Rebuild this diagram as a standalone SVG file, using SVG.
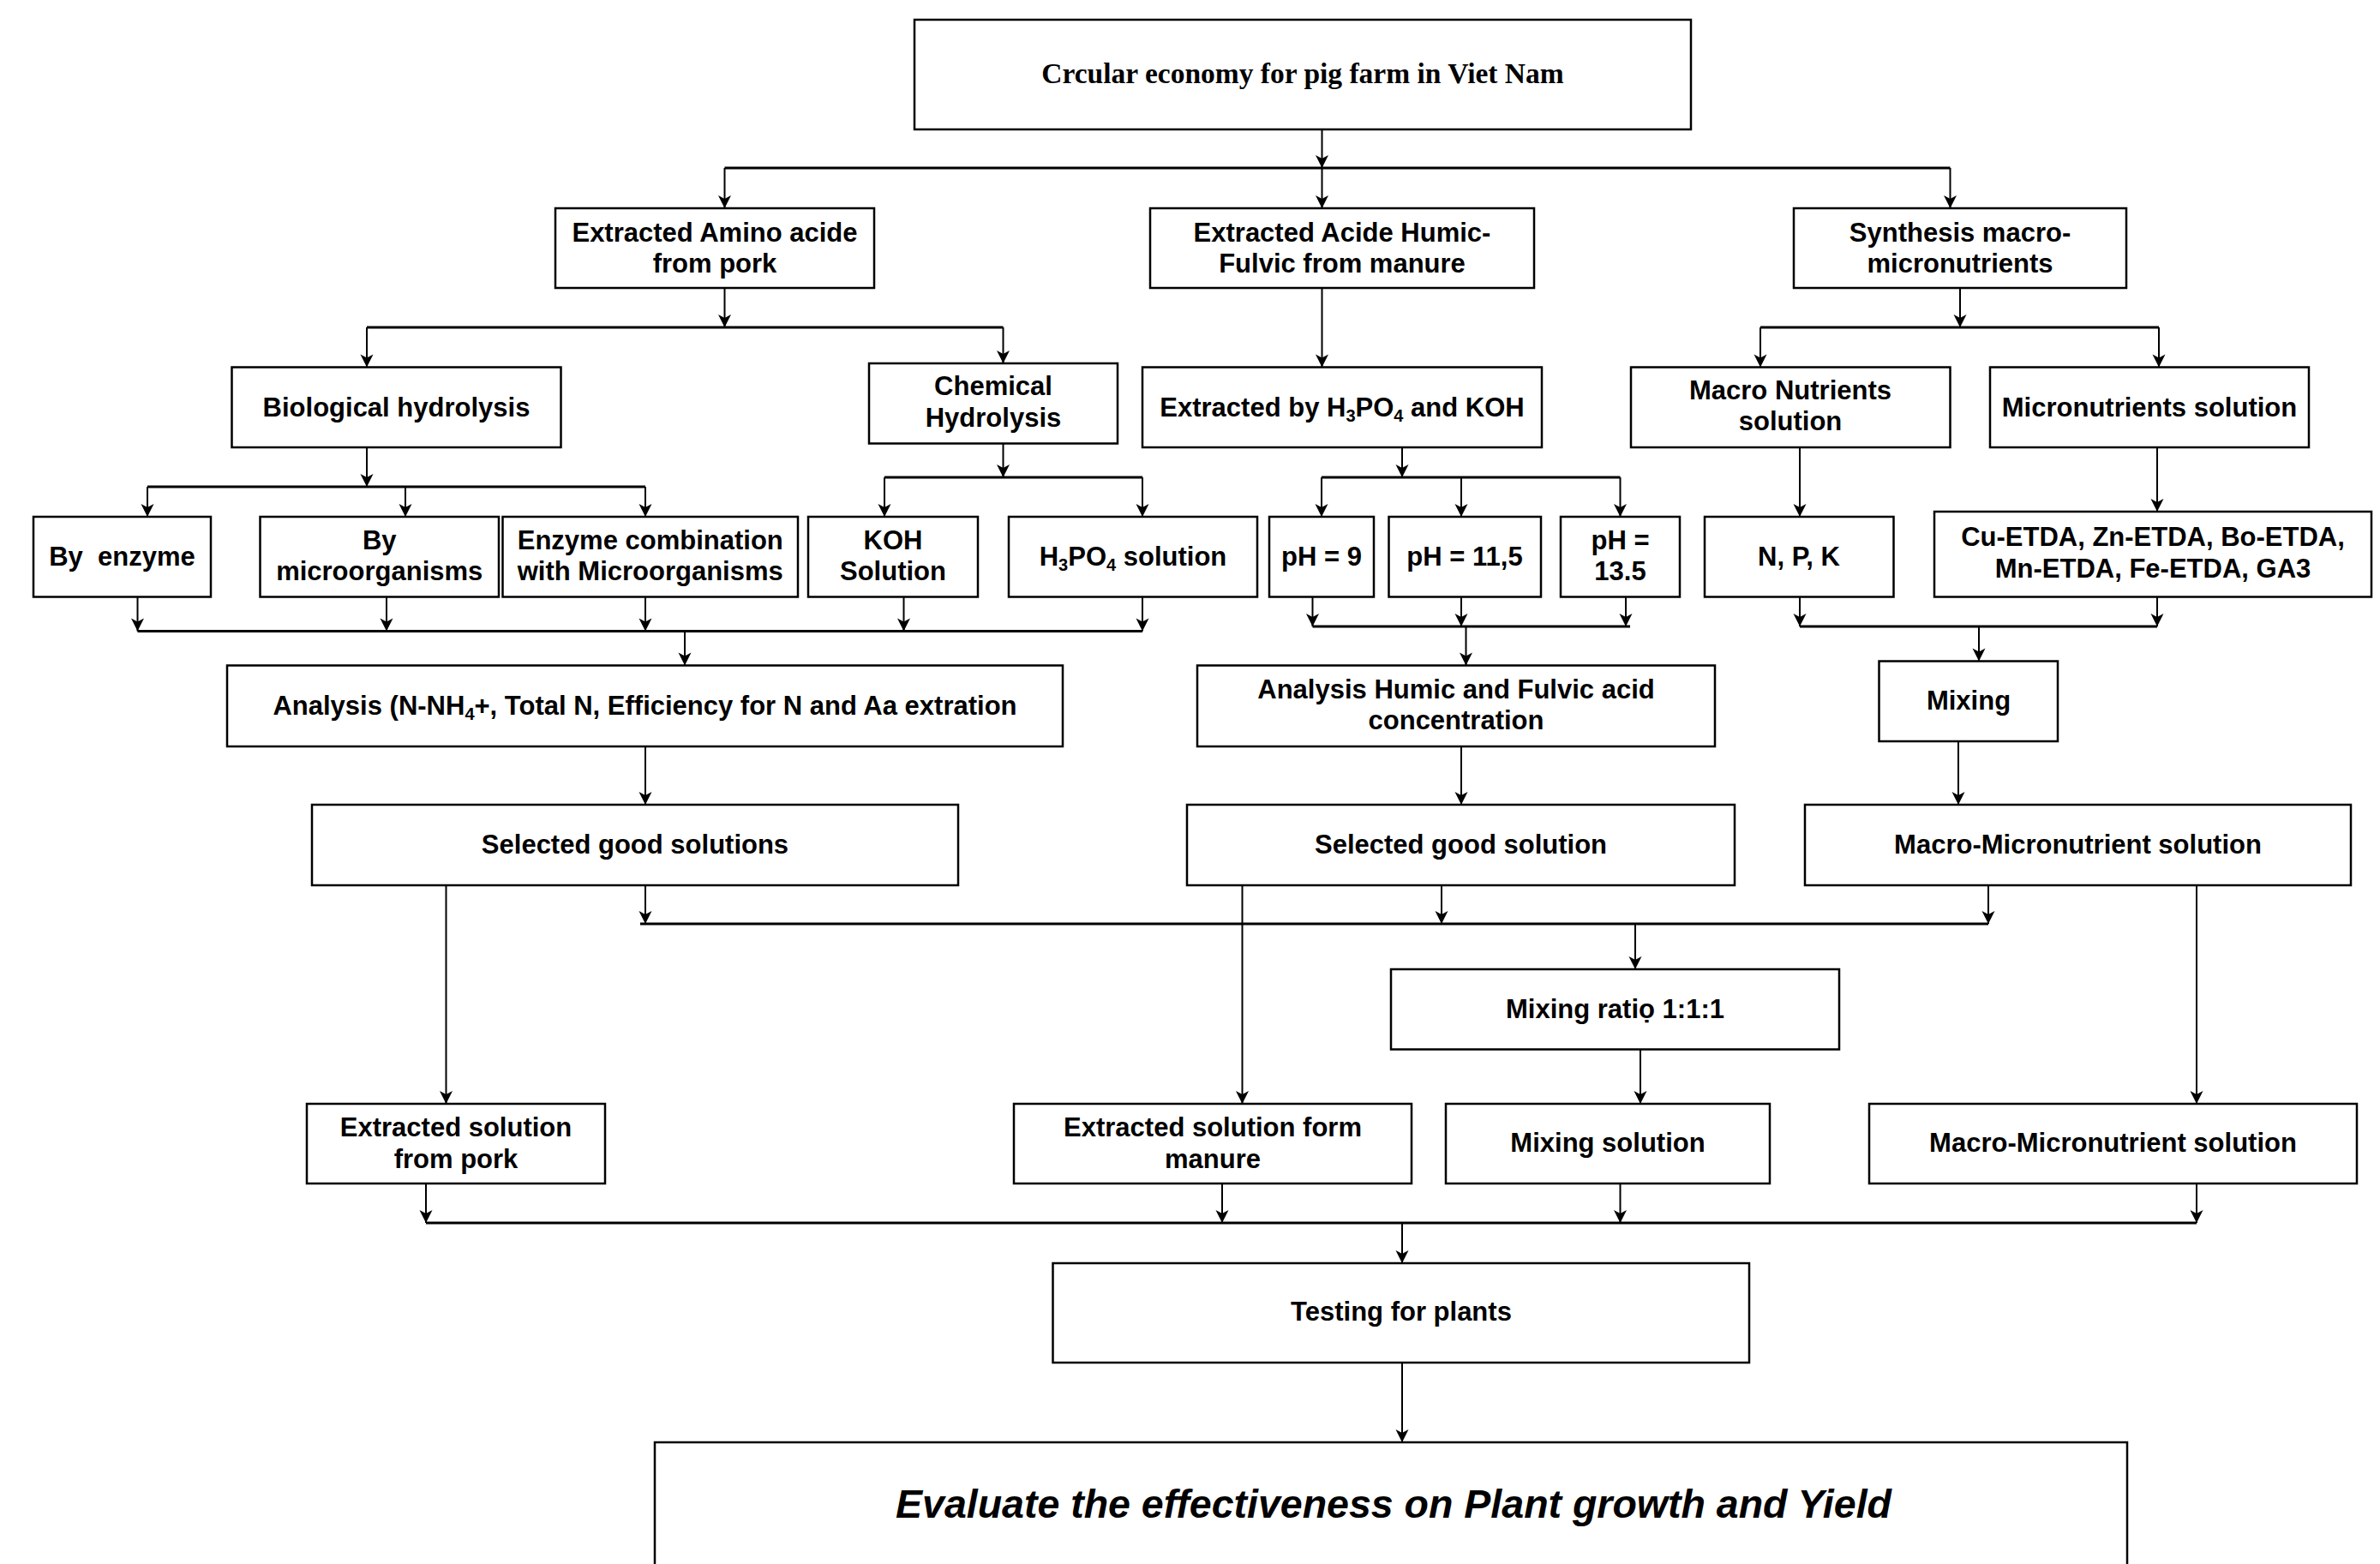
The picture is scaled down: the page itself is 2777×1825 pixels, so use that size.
<svg xmlns="http://www.w3.org/2000/svg" width="2777" height="1825" viewBox="0 0 2777 1825">
<style>
.box{fill:#fff;stroke:#000;stroke-width:2.5}
.t{font-family:"Liberation Sans",Arial,sans-serif;font-weight:bold;font-size:31px;text-anchor:middle;fill:#000}
.title{font-family:"Liberation Serif","Times New Roman",serif;font-weight:bold;font-size:33.5px;text-anchor:middle;fill:#000}
.ev{font-family:"Liberation Sans",Arial,sans-serif;font-weight:bold;font-style:italic;font-size:46.5px;text-anchor:middle;fill:#000}
.sub{font-size:20px}
.c{stroke:#000;stroke-width:2;fill:none}
.a{stroke:#000;stroke-width:2;fill:none;marker-end:url(#ah)}
.bus{stroke:#000;stroke-width:3;fill:none}
</style>
<defs>
<marker id="ah" markerUnits="userSpaceOnUse" viewBox="-16 -8 16 16" refX="0" refY="0" markerWidth="16" markerHeight="16" orient="auto">
<path d="M0,0 L-15,-7.5 L-11,0 L-15,7.5 Z" fill="#000"/>
</marker>
</defs>
<rect width="2777" height="1825" fill="#fff"/>

<g id="connectors">
<line class="a" x1="1542.5" y1="151" x2="1542.5" y2="196"/>
<line class="bus" x1="845.5" y1="196" x2="2275.5" y2="196"/>
<line class="a" x1="845.5" y1="196" x2="845.5" y2="243"/>
<line class="a" x1="1542.5" y1="196" x2="1542.5" y2="243"/>
<line class="a" x1="2275.5" y1="196" x2="2275.5" y2="243"/>
<line class="a" x1="845.5" y1="336" x2="845.5" y2="382"/>
<line class="bus" x1="428" y1="382" x2="1170.5" y2="382"/>
<line class="a" x1="428" y1="382" x2="428" y2="428.5"/>
<line class="a" x1="1170.5" y1="382" x2="1170.5" y2="424"/>
<line class="a" x1="1542.5" y1="336" x2="1542.5" y2="428.5"/>
<line class="a" x1="2287" y1="336" x2="2287" y2="382"/>
<line class="bus" x1="2054" y1="382" x2="2519" y2="382"/>
<line class="a" x1="2054" y1="382" x2="2054" y2="428.5"/>
<line class="a" x1="2519" y1="382" x2="2519" y2="428.5"/>
<line class="a" x1="428" y1="522" x2="428" y2="568"/>
<line class="bus" x1="172" y1="568" x2="753" y2="568"/>
<line class="a" x1="172" y1="568" x2="172" y2="603"/>
<line class="a" x1="473" y1="568" x2="473" y2="603"/>
<line class="a" x1="753" y1="568" x2="753" y2="603"/>
<line class="a" x1="1170.5" y1="517.5" x2="1170.5" y2="557"/>
<line class="bus" x1="1032" y1="557" x2="1333" y2="557"/>
<line class="a" x1="1032" y1="557" x2="1032" y2="603"/>
<line class="a" x1="1333" y1="557" x2="1333" y2="603"/>
<line class="a" x1="1636" y1="522" x2="1636" y2="557"/>
<line class="bus" x1="1542" y1="557" x2="1890.5" y2="557"/>
<line class="a" x1="1542" y1="557" x2="1542" y2="603"/>
<line class="a" x1="1705" y1="557" x2="1705" y2="603"/>
<line class="a" x1="1890.5" y1="557" x2="1890.5" y2="603"/>
<line class="a" x1="2100" y1="522" x2="2100" y2="603"/>
<line class="a" x1="2517" y1="522" x2="2517" y2="597"/>
<line class="a" x1="160.5" y1="696.5" x2="160.5" y2="736.5"/>
<line class="a" x1="451" y1="696.5" x2="451" y2="736.5"/>
<line class="a" x1="753" y1="696.5" x2="753" y2="736.5"/>
<line class="a" x1="1054.5" y1="696.5" x2="1054.5" y2="736.5"/>
<line class="a" x1="1333" y1="696.5" x2="1333" y2="736.5"/>
<line class="bus" x1="160.5" y1="736.5" x2="1333" y2="736.5"/>
<line class="a" x1="799" y1="736.5" x2="799" y2="776.5"/>
<line class="a" x1="1531.5" y1="696.5" x2="1531.5" y2="731"/>
<line class="a" x1="1705" y1="696.5" x2="1705" y2="731"/>
<line class="a" x1="1897" y1="696.5" x2="1897" y2="731"/>
<line class="bus" x1="1531.5" y1="731" x2="1902" y2="731"/>
<line class="a" x1="1710.5" y1="731" x2="1710.5" y2="776.5"/>
<line class="a" x1="2100" y1="696.5" x2="2100" y2="731"/>
<line class="a" x1="2517" y1="696.5" x2="2517" y2="731"/>
<line class="bus" x1="2100" y1="731" x2="2517" y2="731"/>
<line class="a" x1="2309" y1="731" x2="2309" y2="771.5"/>
<line class="a" x1="753" y1="871" x2="753" y2="939"/>
<line class="a" x1="1705" y1="871" x2="1705" y2="939"/>
<line class="a" x1="2285" y1="865" x2="2285" y2="939"/>
<line class="a" x1="753" y1="1033" x2="753" y2="1078"/>
<line class="a" x1="1682" y1="1033" x2="1682" y2="1078"/>
<line class="a" x1="2320" y1="1033" x2="2320" y2="1078"/>
<line class="bus" x1="747" y1="1078" x2="2320" y2="1078"/>
<line class="a" x1="1908" y1="1078" x2="1908" y2="1131"/>
<line class="a" x1="520.5" y1="1033" x2="520.5" y2="1288"/>
<line class="a" x1="1449.5" y1="1033" x2="1449.5" y2="1288"/>
<line class="a" x1="2563" y1="1033" x2="2563" y2="1288"/>
<line class="a" x1="1914" y1="1224.5" x2="1914" y2="1288"/>
<line class="a" x1="497" y1="1381" x2="497" y2="1427"/>
<line class="a" x1="1426" y1="1381" x2="1426" y2="1427"/>
<line class="a" x1="1890.5" y1="1381" x2="1890.5" y2="1427"/>
<line class="a" x1="2563" y1="1381" x2="2563" y2="1427"/>
<line class="bus" x1="497" y1="1427" x2="2563" y2="1427"/>
<line class="a" x1="1636" y1="1427" x2="1636" y2="1474"/>
<line class="a" x1="1636" y1="1590" x2="1636" y2="1683"/>
</g>

<g id="n-title"><rect class="box" x="1067" y="23" width="906" height="128"/><text class="title" x="1520" y="97">Crcular economy for pig farm in Viet Nam</text></g>

<g id="n-amino"><rect class="box" x="648" y="243" width="372" height="93"/><text class="t" x="834" y="282">Extracted Amino acide</text><text class="t" x="834" y="318">from pork</text></g>
<g id="n-humic"><rect class="box" x="1342" y="243" width="448" height="93"/><text class="t" x="1566" y="282">Extracted Acide Humic-</text><text class="t" x="1566" y="318">Fulvic from manure</text></g>
<g id="n-synth"><rect class="box" x="2093" y="243" width="388" height="93"/><text class="t" x="2287" y="282">Synthesis macro-</text><text class="t" x="2287" y="318">micronutrients</text></g>

<g id="n-bio"><rect class="box" x="270.5" y="428.5" width="384" height="93.5"/><text class="t" x="462.5" y="486">Biological hydrolysis</text></g>
<g id="n-chem"><rect class="box" x="1014" y="424" width="290" height="93.5"/><text class="t" x="1159" y="461">Chemical</text><text class="t" x="1159" y="497.5">Hydrolysis</text></g>
<g id="n-extr"><rect class="box" x="1333" y="428.5" width="466" height="93.5"/><text class="t" x="1566" y="486">Extracted by H<tspan class="sub" dy="6">3</tspan><tspan dy="-6">PO</tspan><tspan class="sub" dy="6">4</tspan><tspan dy="-6"> and KOH</tspan></text></g>
<g id="n-macro"><rect class="box" x="1903" y="428.5" width="372.5" height="93.5"/><text class="t" x="2089" y="466">Macro Nutrients</text><text class="t" x="2089" y="502">solution</text></g>
<g id="n-micro"><rect class="box" x="2322" y="428.5" width="372" height="93.5"/><text class="t" x="2508" y="486">Micronutrients solution</text></g>

<g id="n-enzyme"><rect class="box" x="39" y="603" width="207" height="93.5"/><text class="t" x="142.5" y="660" xml:space="preserve">By  enzyme</text></g>
<g id="n-bymicro"><rect class="box" x="303.5" y="603" width="278.5" height="93.5"/><text class="t" x="442.75" y="641">By</text><text class="t" x="442.75" y="677">microorganisms</text></g>
<g id="n-enzcomb"><rect class="box" x="586.5" y="603" width="344.5" height="93.5"/><text class="t" x="758.75" y="641">Enzyme combination</text><text class="t" x="758.75" y="677">with Microorganisms</text></g>
<g id="n-koh"><rect class="box" x="943" y="603" width="198" height="93.5"/><text class="t" x="1042" y="641">KOH</text><text class="t" x="1042" y="677">Solution</text></g>
<g id="n-h3po4"><rect class="box" x="1177" y="603" width="290" height="93.5"/><text class="t" x="1322" y="660">H<tspan class="sub" dy="6">3</tspan><tspan dy="-6">PO</tspan><tspan class="sub" dy="6">4</tspan><tspan dy="-6"> solution</tspan></text></g>
<g id="n-ph9"><rect class="box" x="1481" y="603" width="122" height="93.5"/><text class="t" x="1542" y="660">pH = 9</text></g>
<g id="n-ph115"><rect class="box" x="1620.5" y="603" width="177.5" height="93.5"/><text class="t" x="1709" y="660">pH = 11,5</text></g>
<g id="n-ph135"><rect class="box" x="1821" y="603" width="139" height="93.5"/><text class="t" x="1890.5" y="641">pH =</text><text class="t" x="1890.5" y="677">13.5</text></g>
<g id="n-npk"><rect class="box" x="1989" y="603" width="220.5" height="93.5"/><text class="t" x="2099" y="660">N, P, K</text></g>
<g id="n-cu"><rect class="box" x="2257" y="597" width="510" height="99.5"/><text class="t" x="2512" y="637">Cu-ETDA, Zn-ETDA, Bo-ETDA,</text><text class="t" x="2512" y="674">Mn-ETDA, Fe-ETDA, GA3</text></g>

<g id="n-analysisN"><rect class="box" x="265" y="776.5" width="975" height="94.5"/><text class="t" x="752.5" y="834">Analysis (N-NH<tspan class="sub" dy="6">4</tspan><tspan dy="-6">+, Total N, Efficiency for N and Aa extration</tspan></text></g>
<g id="n-analysisH"><rect class="box" x="1397" y="776.5" width="604" height="94.5"/><text class="t" x="1699" y="815">Analysis Humic and Fulvic acid</text><text class="t" x="1699" y="851">concentration</text></g>
<g id="n-mixing"><rect class="box" x="2192.5" y="771.5" width="208.5" height="93.5"/><text class="t" x="2297" y="828">Mixing</text></g>

<g id="n-selN"><rect class="box" x="364" y="939" width="754" height="94"/><text class="t" x="741" y="996">Selected good solutions</text></g>
<g id="n-selH"><rect class="box" x="1385" y="939" width="639" height="94"/><text class="t" x="1704.5" y="996">Selected good solution</text></g>
<g id="n-mm1"><rect class="box" x="2106" y="939" width="637" height="94"/><text class="t" x="2424.5" y="996">Macro-Micronutrient solution</text></g>

<g id="n-ratio"><rect class="box" x="1623" y="1131" width="523" height="93.5"/><text class="t" x="1884.5" y="1188">Mixing ratiọ 1:1:1</text></g>

<g id="n-expork"><rect class="box" x="358" y="1288" width="348" height="93"/><text class="t" x="532" y="1326">Extracted solution</text><text class="t" x="532" y="1363">from pork</text></g>
<g id="n-exmanure"><rect class="box" x="1183" y="1288" width="464" height="93"/><text class="t" x="1415" y="1326">Extracted solution form</text><text class="t" x="1415" y="1363">manure</text></g>
<g id="n-mixsol"><rect class="box" x="1687" y="1288" width="378" height="93"/><text class="t" x="1876" y="1344">Mixing solution</text></g>
<g id="n-mm2"><rect class="box" x="2181" y="1288" width="569" height="93"/><text class="t" x="2465.5" y="1344">Macro-Micronutrient solution</text></g>

<g id="n-testing"><rect class="box" x="1228.5" y="1474" width="812.5" height="116"/><text class="t" x="1635" y="1541">Testing for plants</text></g>

<g id="n-evaluate"><rect class="box" x="764" y="1683" width="1718" height="170"/><text class="ev" x="1626" y="1771">Evaluate the effectiveness on Plant growth and Yield</text></g>
</svg>
